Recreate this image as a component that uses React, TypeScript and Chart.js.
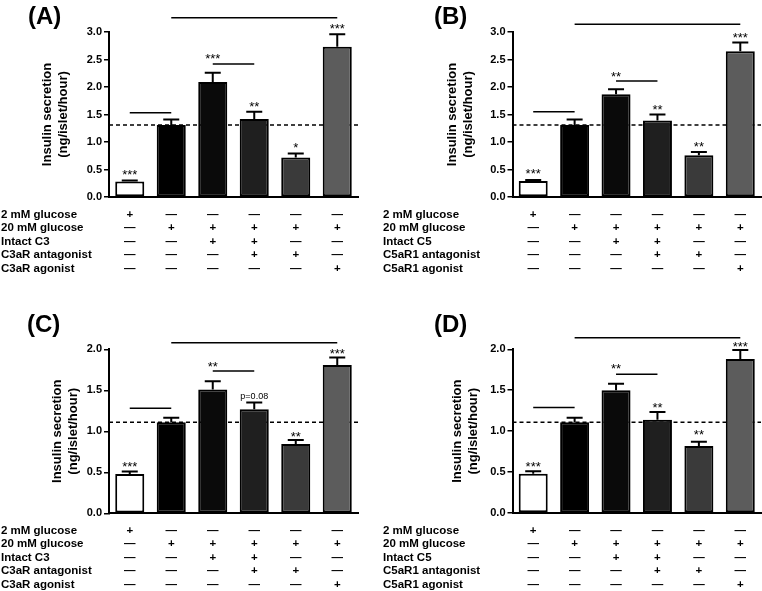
import React, { useEffect, useRef } from 'react';
import { Chart, registerables } from 'chart.js';

Chart.register(...registerables);

const FONT = '"Liberation Sans", Arial, Helvetica, sans-serif';

// ---------- data ----------
const rowLabelsC3 = ['2 mM glucose', '20 mM glucose', 'Intact C3', 'C3aR antagonist', 'C3aR agonist'];
const rowLabelsC5 = ['2 mM glucose', '20 mM glucose', 'Intact C5', 'C5aR1 antagonist', 'C5aR1 agonist'];

const treatmentRow1 = ['+', '—', '—', '—', '—', '—'];
const treatmentRow2 = ['—', '+', '+', '+', '+', '+'];
const treatmentRow3 = ['—', '—', '+', '+', '—', '—'];
const treatmentRow4 = ['—', '—', '—', '+', '+', '—'];
const treatmentRow5 = ['—', '—', '—', '—', '—', '+'];
const treatmentRows = [treatmentRow1, treatmentRow2, treatmentRow3, treatmentRow4, treatmentRow5];

const barColors = ['#ffffff', '#000000', '#0a0a0a', '#1f1f1f', '#3a3a3a', '#5c5c5c'];

const valuesA = [0.28, 1.31, 2.09, 1.42, 0.72, 2.73];
const errorsA = [0.02, 0.1, 0.17, 0.13, 0.07, 0.23];
const sigLinesA = [[0, 1, 1.53], [2, 3, 2.42], [1, 5, 3.26]];
const marksA = [[0, '***', 0.42], [2, '***', 2.52], [3, '**', 1.66], [4, '*', 0.91], [5, '***', 3.08]];

const valuesB = [0.29, 1.31, 1.87, 1.39, 0.76, 2.65];
const errorsB = [0.02, 0.1, 0.09, 0.11, 0.06, 0.16];
const sigLinesB = [[0, 1, 1.55], [2, 3, 2.11], [1, 5, 3.14]];
const marksB = [[0, '***', 0.43], [2, '**', 2.2], [3, '**', 1.6], [4, '**', 0.93], [5, '***', 2.91]];

const valuesC = [0.48, 1.11, 1.51, 1.27, 0.845, 1.81];
const errorsC = [0.03, 0.055, 0.1, 0.08, 0.05, 0.09];
const sigLinesC = [[0, 1, 1.28], [2, 3, 1.735], [1, 5, 2.08]];
const marksC = [[0, '***', 0.58], [2, '**', 1.8], [3, 'p=0.08', 1.43], [4, '**', 0.94], [5, '***', 1.95]];

const valuesD = [0.48, 1.11, 1.5, 1.14, 0.82, 1.88];
const errorsD = [0.03, 0.055, 0.08, 0.095, 0.05, 0.11];
const sigLinesD = [[0, 1, 1.29], [2, 3, 1.695], [1, 5, 2.14]];
const marksD = [[0, '***', 0.58], [2, '**', 1.77], [3, '**', 1.29], [4, '**', 0.96], [5, '***', 2.04]];

const yTitle = ['Insulin secretion', '(ng/islet/hour)'];

// ---------- layout ----------
type PanelCfg = {
  label: string;
  left: number; top: number; width: number; height: number;
  axisLeft: number; plotRight: number; plotTop: number; plotBottom: number;
  titlePad: number; labelX: number; labelY: number; rowX: number;
  yMax: number;
  rowLabels: string[];
  values: number[]; errors: number[];
  sigLines: (number)[][]; marks: (string | number)[][];
};

const panels: PanelCfg[] = [
  { label: '(A)', left: 0, top: 0, width: 381, height: 300, axisLeft: 109, plotRight: 358, plotTop: 32, plotBottom: 197,
    titlePad: 39.5, labelX: 28, labelY: 17, rowX: 1, yMax: 3, rowLabels: rowLabelsC3,
    values: valuesA, errors: errorsA, sigLines: sigLinesA, marks: marksA },
  { label: '(B)', left: 381, top: 0, width: 381, height: 300, axisLeft: 131.5, plotRight: 380, plotTop: 32, plotBottom: 197,
    titlePad: 63, labelX: 53, labelY: 17, rowX: 2, yMax: 3, rowLabels: rowLabelsC5,
    values: valuesB, errors: errorsB, sigLines: sigLinesB, marks: marksB },
  { label: '(C)', left: 0, top: 300, width: 381, height: 291, axisLeft: 109, plotRight: 358, plotTop: 49.3, plotBottom: 213.3,
    titlePad: 49.5, labelX: 27, labelY: 25, rowX: 1, yMax: 2, rowLabels: rowLabelsC3,
    values: valuesC, errors: errorsC, sigLines: sigLinesC, marks: marksC },
  { label: '(D)', left: 381, top: 300, width: 381, height: 291, axisLeft: 131.5, plotRight: 380, plotTop: 49.3, plotBottom: 213,
    titlePad: 68.5, labelX: 53, labelY: 25, rowX: 2, yMax: 2, rowLabels: rowLabelsC5,
    values: valuesD, errors: errorsD, sigLines: sigLinesD, marks: marksD },
];

const ROW_PAD = 10.75;
const ROW_H = 13.5;
const ROW_FONT = 11.5;

function makePlugin(cfg: PanelCfg) {
  return {
    id: 'annot' + cfg.label,
    beforeDatasetsDraw(chart: any) {
      const { ctx, chartArea, scales } = chart;
      const y = scales.y.getPixelForValue(cfg.values[1]);
      ctx.save();
      ctx.strokeStyle = '#000';
      ctx.lineWidth = 1.5;
      ctx.setLineDash([4, 3]);
      ctx.beginPath();
      ctx.moveTo(chartArea.left, y);
      ctx.lineTo(chartArea.right, y);
      ctx.stroke();
      ctx.restore();
    },
    afterDraw(chart: any) {
      const { ctx, chartArea, scales } = chart;
      const xs = scales.x;
      const ys = scales.y;
      ctx.save();
      ctx.strokeStyle = '#000';
      ctx.fillStyle = '#000';
      // error bars (upper only)
      ctx.lineWidth = 2;
      cfg.values.forEach((v, i) => {
        const x = xs.getPixelForValue(i);
        const y0 = ys.getPixelForValue(v);
        const y1 = ys.getPixelForValue(v + cfg.errors[i]);
        ctx.beginPath();
        ctx.moveTo(x, y0);
        ctx.lineTo(x, y1);
        ctx.moveTo(x - 8, y1);
        ctx.lineTo(x + 8, y1);
        ctx.stroke();
      });
      // significance lines
      ctx.lineWidth = 1.5;
      cfg.sigLines.forEach(([a, b, v]) => {
        const y = ys.getPixelForValue(v);
        ctx.beginPath();
        ctx.moveTo(xs.getPixelForValue(a), y);
        ctx.lineTo(xs.getPixelForValue(b), y);
        ctx.stroke();
      });
      // marks
      ctx.textAlign = 'center';
      cfg.marks.forEach(([i, text, v]) => {
        const x = xs.getPixelForValue(i as number);
        const y = ys.getPixelForValue(v as number);
        const t = String(text);
        if (/^\*+$/.test(t)) {
          ctx.font = `13px ${FONT}`;
          ctx.textBaseline = 'alphabetic';
          ctx.fillText(t, x, y + 5);
        } else {
          ctx.font = `9px ${FONT}`;
          ctx.textBaseline = 'middle';
          ctx.fillText(t, x, y);
        }
      });
      // row labels of the treatment table
      ctx.textAlign = 'left';
      ctx.textBaseline = 'middle';
      ctx.font = `bold ${ROW_FONT}px ${FONT}`;
      cfg.rowLabels.forEach((t, r) => {
        ctx.fillText(t, cfg.rowX, chartArea.bottom + ROW_PAD + ROW_H / 2 + r * ROW_H);
      });
      // panel label
      ctx.font = `bold 24px ${FONT}`;
      ctx.fillText(cfg.label, cfg.labelX, cfg.labelY);
      ctx.restore();
    },
  };
}

function Panel({ cfg }: { cfg: PanelCfg }) {
  const ref = useRef<HTMLCanvasElement | null>(null);
  useEffect(() => {
    if (!ref.current) return;
    const labels = cfg.values.map((_, i) => treatmentRows.map((row) => row[i]));
    const chart = new Chart(ref.current, {
      type: 'bar',
      data: {
        labels,
        datasets: [
          {
            data: cfg.values,
            backgroundColor: barColors,
            borderColor: '#000',
            borderWidth: 2,
            borderSkipped: false,
            barPercentage: 0.7,
            categoryPercentage: 1,
          },
        ],
      },
      options: {
        responsive: false,
        animation: false,
        devicePixelRatio: 1,
        layout: { padding: { top: cfg.plotTop, right: cfg.width - cfg.plotRight, left: 0, bottom: 0 } },
        plugins: { legend: { display: false }, tooltip: { enabled: false }, title: { display: false } },
        scales: {
          x: {
            afterFit: (s: any) => { s.height = cfg.height - cfg.plotBottom; },
            grid: { display: false, drawTicks: false },
            border: { display: true, color: '#000', width: 2 },
            ticks: {
              autoSkip: false,
              maxRotation: 0,
              minRotation: 0,
              padding: ROW_PAD,
              color: '#000',
              font: { family: FONT, size: ROW_FONT, weight: 'bold', lineHeight: ROW_H / ROW_FONT },
            },
          },
          y: {
            min: 0,
            max: cfg.yMax,
            afterFit: (s: any) => { s.width = cfg.axisLeft; },
            grid: { display: true, drawOnChartArea: false, drawTicks: true, tickLength: 5, color: '#000', lineWidth: 1.5 },
            border: { display: true, color: '#000', width: 2 },
            ticks: {
              stepSize: 0.5,
              padding: 2,
              color: '#000',
              font: { family: FONT, size: 11, weight: 'bold' },
              callback: (v: any) => Number(v).toFixed(1),
            },
            title: {
              display: true,
              text: yTitle,
              color: '#000',
              font: { family: FONT, size: 13, weight: 'bold', lineHeight: 16 / 13 },
              padding: { top: cfg.titlePad, bottom: 0 },
            },
          },
        },
      },
      plugins: [makePlugin(cfg)],
    } as any);
    return () => chart.destroy();
  }, [cfg]);
  return (
    <canvas
      ref={ref}
      width={cfg.width}
      height={cfg.height}
      style={{ position: 'absolute', left: cfg.left, top: cfg.top, width: cfg.width, height: cfg.height }}
    />
  );
}

export default function App() {
  return (
    <div style={{ position: 'absolute', left: 0, top: 0, width: 762, height: 591, background: '#fff', overflow: 'hidden' }}>
      {panels.map((p) => (
        <Panel key={p.label} cfg={p} />
      ))}
    </div>
  );
}
